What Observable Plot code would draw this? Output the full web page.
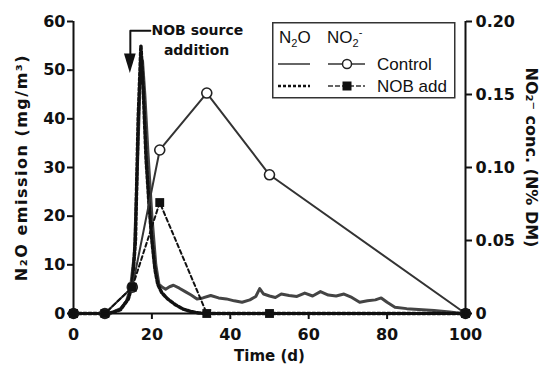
<!DOCTYPE html>
<html><head><meta charset="utf-8">
<script src="https://cdn.jsdelivr.net/npm/d3@7"></script>
<script src="https://cdn.jsdelivr.net/npm/@observablehq/plot@0.6"></script>
<style>
body{margin:0;background:#fff;}
#wrap{position:relative;width:550px;height:370px;}
#legend{position:absolute;left:272px;top:22px;}
</style></head><body><div id="wrap"></div>
<script>
// ---- N2O emission (mg/m3), continuous series ----
const n2oControlDays = [0,4,8,10,12,13.5,14.5,15.5,16.3,17,17.6,18.2,19,20,21,21.8,22.5,23.5,24.5,25.5,27,28.5,30,31.5,33,35,37,39,41,43,45,46.5,47.5,48.5,50,51.5,53,55,57,59,61,63,65,67,69,71,73,75,77,78.5,80,82,85,88,92,96,99,100];
const n2oControlVals = [0,0,0,0.3,1,2.5,5,12,30,48,52,45,33,20,10,6,5.5,5,5.5,5.8,5.2,4.5,3.8,3,3.2,3.7,3.2,3,2.6,2.3,2.8,3.5,5.1,4,3.6,3.3,4,3.7,3.5,4.2,3.6,4.5,3.8,3.6,4,3.3,2.3,2.6,2.8,3.2,2.3,1.3,1,0.8,0.6,0.3,0,0];
const n2oNobDays = [0,4,8,10,12,14,15,15.8,16.5,17.2,17.8,18.5,19.3,20,20.8,21.5,22.5,24,26,28,30,32,34,100];
const n2oNobVals = [0,0,0,0.2,0.8,3,6,15,40,55,46,32,22,15,9,6,4.3,3,1.8,0.9,0.4,0.1,0,0];
// ---- NO2- concentration (N% DM), sampled ----
const no2Days = [0,8,15,22,34,50,100];
const no2Control = [0,0,0.018,0.112,0.151,0.095,0];
const no2Nob = [0,0,0.018,0.076,0,0,0];
// ---- ticks ----
const xTicks = [0,20,40,60,80,100];
const leftTicks = [0,10,20,30,40,50,60];
const rightTicks = [0,0.05,0.10,0.15,0.20];
const rightTickLabels = ["0","0.05","0.10","0.15","0.20"];
// ---- annotation ----
const annotLine = [{x:19.6,y:58.1},{x:14.5,y:58.1},{x:14.5,y:53}];
const annotHead = [{x:13.0,y1:53.3,y2:53.3},{x:14.5,y1:53.3,y2:49.3},{x:16.0,y1:53.3,y2:53.3}];
const annotText = [{x:31.6,y:58.1,t:"NOB source"},{x:31.4,y:54.0,t:"addition"}];

const k = 60 / 0.20; // right-axis value -> left-axis units
const n2oC = n2oControlDays.map((d,i)=>({x:d,y:n2oControlVals[i]}));
const n2oN = n2oNobDays.map((d,i)=>({x:d,y:n2oNobVals[i]}));
const no2C = no2Days.map((d,i)=>({x:d,y:no2Control[i]*k}));
const no2N = no2Days.map((d,i)=>({x:d,y:no2Nob[i]*k}));

const chart = Plot.plot({
  width: 550, height: 370,
  marginLeft: 73, marginRight: 85, marginTop: 21, marginBottom: 57,
  x: {domain:[0,100]},
  y: {domain:[0,60]},
  style: {fontFamily:"DejaVu Sans", fontSize:"16px", fontWeight:"bold", background:"white", color:"#111"},
  marks: [
    Plot.line(n2oC, {x:"x", y:"y", stroke:"#444", strokeWidth:3}),
    Plot.line(n2oN, {x:"x", y:"y", stroke:"#111", strokeWidth:3.5, strokeDasharray:"3,2"}),
    Plot.line(no2C, {x:"x", y:"y", stroke:"#333", strokeWidth:2}),
    Plot.line(no2N, {x:"x", y:"y", stroke:"#111", strokeWidth:2, strokeDasharray:"4,3"}),
    Plot.dot(no2C, {x:"x", y:"y", r:5, fill:"white", stroke:"#222", strokeWidth:1.6}),
    Plot.dot(no2N, {x:"x", y:"y", r:5, symbol:"square", fill:"#111"}),
    Plot.line(annotLine, {x:"x", y:"y", stroke:"#111", strokeWidth:2}),
    Plot.areaY(annotHead, {x:"x", y1:"y1", y2:"y2", fill:"#111"}),
    Plot.text(annotText, {x:"x", y:"y", text:"t", fontSize:14, fontWeight:"bold", fill:"#111"}),
    Plot.ruleY([0], {stroke:"#111", strokeWidth:2}),
    Plot.ruleX([0], {stroke:"#111", strokeWidth:2}),
    Plot.ruleX([100], {stroke:"#111", strokeWidth:2}),
    Plot.axisX({ticks:xTicks, tickSize:6, tickPadding:9, strokeWidth:2, label:null}),
    Plot.axisY({anchor:"left", ticks:leftTicks, tickSize:6, tickPadding:2, strokeWidth:2, label:null}),
    Plot.axisY({anchor:"right", ticks:rightTicks.map(v=>v*k), tickFormat:(d)=>rightTickLabels[rightTicks.findIndex(v=>Math.abs(v*k-d)<1e-6)], tickSize:6, tickPadding:4, strokeWidth:2, label:null}),
    Plot.text(["N₂O emission (mg/m³)"], {frameAnchor:"left", textAnchor:"middle", dx:-52, rotate:-90, fontSize:16, fontWeight:"bold"}),
    Plot.text(["NO₂⁻ conc. (N% DM)"], {frameAnchor:"right", textAnchor:"middle", dx:66, dy:-10, rotate:90, fontSize:16, fontWeight:"bold"}),
    Plot.text(["Time (d)"], {frameAnchor:"bottom", dy:47, fontSize:15, fontWeight:"bold"})
  ]
});
d3.select(chart).selectAll("text").filter(function(){return this.textContent==="N₂O emission (mg/m³)";}).attr("letter-spacing","1.5px");

const wrap = document.getElementById("wrap");
wrap.appendChild(chart);

const leg = document.createElement("div");
leg.id = "legend";
leg.innerHTML = `<svg width="184" height="77" style="font-family:'Liberation Sans',Arial,sans-serif;font-size:17px;fill:#111">
<rect x="0.75" y="0.75" width="182" height="75" fill="white" stroke="#333" stroke-width="1.5"/>
<text x="7" y="21">N<tspan font-size="11" dy="4">2</tspan><tspan dy="-4">O</tspan></text>
<text x="55" y="21">NO<tspan font-size="11" dy="4">2</tspan><tspan font-size="11" dy="-11">-</tspan></text>
<line x1="6" x2="38" y1="42" y2="42" stroke="#333" stroke-width="1.5"/>
<line x1="56" x2="93" y1="42" y2="42" stroke="#333" stroke-width="1.5"/>
<circle cx="75" cy="42" r="4.5" fill="white" stroke="#222" stroke-width="1.5"/>
<text x="105" y="48">Control</text>
<line x1="6" x2="38" y1="64" y2="64" stroke="#111" stroke-width="2.5" stroke-dasharray="3,2"/>
<line x1="56" x2="93" y1="64" y2="64" stroke="#333" stroke-width="1.5" stroke-dasharray="5,2"/>
<rect x="70.5" y="59.5" width="9" height="9" fill="#111"/>
<text x="105" y="70">NOB add</text>
</svg>`;
wrap.appendChild(leg);
</script></body></html>
